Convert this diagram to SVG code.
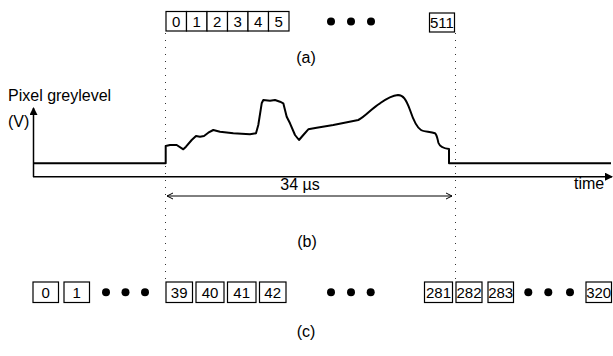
<svg xmlns="http://www.w3.org/2000/svg" width="613" height="356" viewBox="0 0 613 356">
<style>
.box{fill:#fff;stroke:#000;stroke-width:1.2}
.num{font-family:"Liberation Sans",Arial,sans-serif;font-size:15px;fill:#000;text-anchor:middle}
.lbl{font-family:"Liberation Sans",Arial,sans-serif;font-size:16px;fill:#000}
.dot{fill:#000}
.vdot{stroke:#333;stroke-width:1;stroke-dasharray:1 6;fill:none}
.axis{stroke:#000;stroke-width:1.5;fill:none}
.wave{stroke:#000;stroke-width:2;fill:none;stroke-linejoin:round}
</style>
<defs>
<marker id="ah" markerWidth="8" markerHeight="8" refX="7" refY="4" orient="auto" markerUnits="userSpaceOnUse">
<path d="M0,0 L8,4 L0,8 Z" fill="#000"/>
</marker>
<marker id="open" markerWidth="8" markerHeight="8" refX="7" refY="4" orient="auto-start-reverse" markerUnits="userSpaceOnUse">
<path d="M1,1 L7,4 L1,7" fill="none" stroke="#000" stroke-width="1"/>
</marker>
</defs>

<g id="guides">
<line class="vdot" x1="165.5" y1="33" x2="165.5" y2="281"/>
<line class="vdot" x1="455.5" y1="33" x2="455.5" y2="281"/>
</g>

<g id="row-a">
<rect class="box" x="166" y="11.5" width="20.5" height="19.5"/>
<rect class="box" x="186.5" y="11.5" width="20.5" height="19.5"/>
<rect class="box" x="207" y="11.5" width="20.5" height="19.5"/>
<rect class="box" x="227.5" y="11.5" width="20.5" height="19.5"/>
<rect class="box" x="248" y="11.5" width="20.5" height="19.5"/>
<rect class="box" x="268.5" y="11.5" width="20.5" height="19.5"/>
<text class="num" x="176.2" y="27">0</text>
<text class="num" x="196.7" y="27">1</text>
<text class="num" x="217.2" y="27">2</text>
<text class="num" x="237.7" y="27">3</text>
<text class="num" x="258.2" y="27">4</text>
<text class="num" x="278.7" y="27">5</text>
<circle class="dot" cx="331" cy="21.5" r="4"/>
<circle class="dot" cx="351" cy="21.5" r="4"/>
<circle class="dot" cx="371" cy="21.5" r="4"/>
<rect class="box" x="429.5" y="13" width="25" height="19"/>
<text class="num" x="442" y="28" font-size="14">511</text>
<text class="lbl" x="306" y="63" text-anchor="middle">(a)</text>
</g>

<g id="graph-b">
<text class="lbl" x="8" y="101" font-size="14">Pixel greylevel</text>
<text class="lbl" x="8" y="127" font-size="14">(V)</text>
<line class="axis" x1="33.5" y1="177" x2="33.5" y2="108" marker-end="url(#ah)"/>
<line class="axis" x1="33" y1="176.7" x2="612" y2="176.7" marker-end="url(#ah)"/>
<text class="lbl" x="574" y="189" font-size="15">time</text>
<path class="wave" d="M33,163.3 L165.7,163.3 L165.7,146 L170,145 L176.7,145 L183.3,149.3 L186,146.7 L191.7,140 L196,136 L200,136.7 L204,136 L208.3,132.7 L213.3,130 L220,131.7 L233.3,133.3 L250,134.3 L256,133.3 L258.3,125 L261.7,103.3 L263.3,100 L270,100.7 L275,100 L280,101.7 L283.3,103.3 L286.7,116.7 L290,123.3 L295,135 L299,140 L303.3,135 L308.3,129.3 L316.7,127.7 L333.3,125 L358.3,120 C366,116 372,108 380,103.3 C386,99 392,95.5 398,95 C403,95 406,99 410,110 C413,119 416,127 421,130 C424,132 430,131.5 435,133.3 C437,135 437.3,138.3 438.5,143 C440,147 443,148.3 449,149 L449,163.3 L611,163.3"/>
<line x1="167" y1="196" x2="452" y2="196" stroke="#000" stroke-width="1" marker-start="url(#open)" marker-end="url(#open)"/>
<text class="lbl" x="300" y="190" text-anchor="middle" font-size="15">34 µs</text>
<text class="lbl" x="307" y="247" text-anchor="middle">(b)</text>
</g>

<g id="row-c">
<rect class="box" x="33" y="282" width="25.5" height="20.5"/>
<rect class="box" x="64" y="282" width="25.5" height="20.5"/>
<text class="num" x="45.7" y="298">0</text>
<text class="num" x="76.7" y="298">1</text>
<circle class="dot" cx="106" cy="292.3" r="4"/>
<circle class="dot" cx="125.5" cy="292.3" r="4"/>
<circle class="dot" cx="145" cy="292.3" r="4"/>
<rect class="box" x="166" y="282" width="26.5" height="20.5"/>
<rect class="box" x="196" y="282" width="28" height="20.5"/>
<rect class="box" x="227.5" y="282" width="28.5" height="20.5"/>
<rect class="box" x="259.5" y="282" width="26.5" height="20.5"/>
<text class="num" x="179.2" y="298">39</text>
<text class="num" x="210" y="298">40</text>
<text class="num" x="241.7" y="298">41</text>
<text class="num" x="272.7" y="298">42</text>
<circle class="dot" cx="331" cy="292.3" r="4"/>
<circle class="dot" cx="351" cy="292.3" r="4"/>
<circle class="dot" cx="370.7" cy="292.3" r="4"/>
<rect class="box" x="424.5" y="282" width="28" height="20.5"/>
<rect class="box" x="456" y="282" width="26" height="20.5"/>
<rect class="box" x="488" y="282" width="25.5" height="20.5"/>
<text class="num" x="438.5" y="298" font-size="14">281</text>
<text class="num" x="469" y="298" font-size="14">282</text>
<text class="num" x="500.7" y="298" font-size="14">283</text>
<circle class="dot" cx="528.3" cy="292.3" r="4"/>
<circle class="dot" cx="548.3" cy="292.3" r="4"/>
<circle class="dot" cx="570" cy="292.3" r="4"/>
<rect class="box" x="586" y="282" width="25.5" height="20.5"/>
<text class="num" x="598.7" y="298" font-size="14">320</text>
<text class="lbl" x="306" y="337" text-anchor="middle">(c)</text>
</g>
</svg>
